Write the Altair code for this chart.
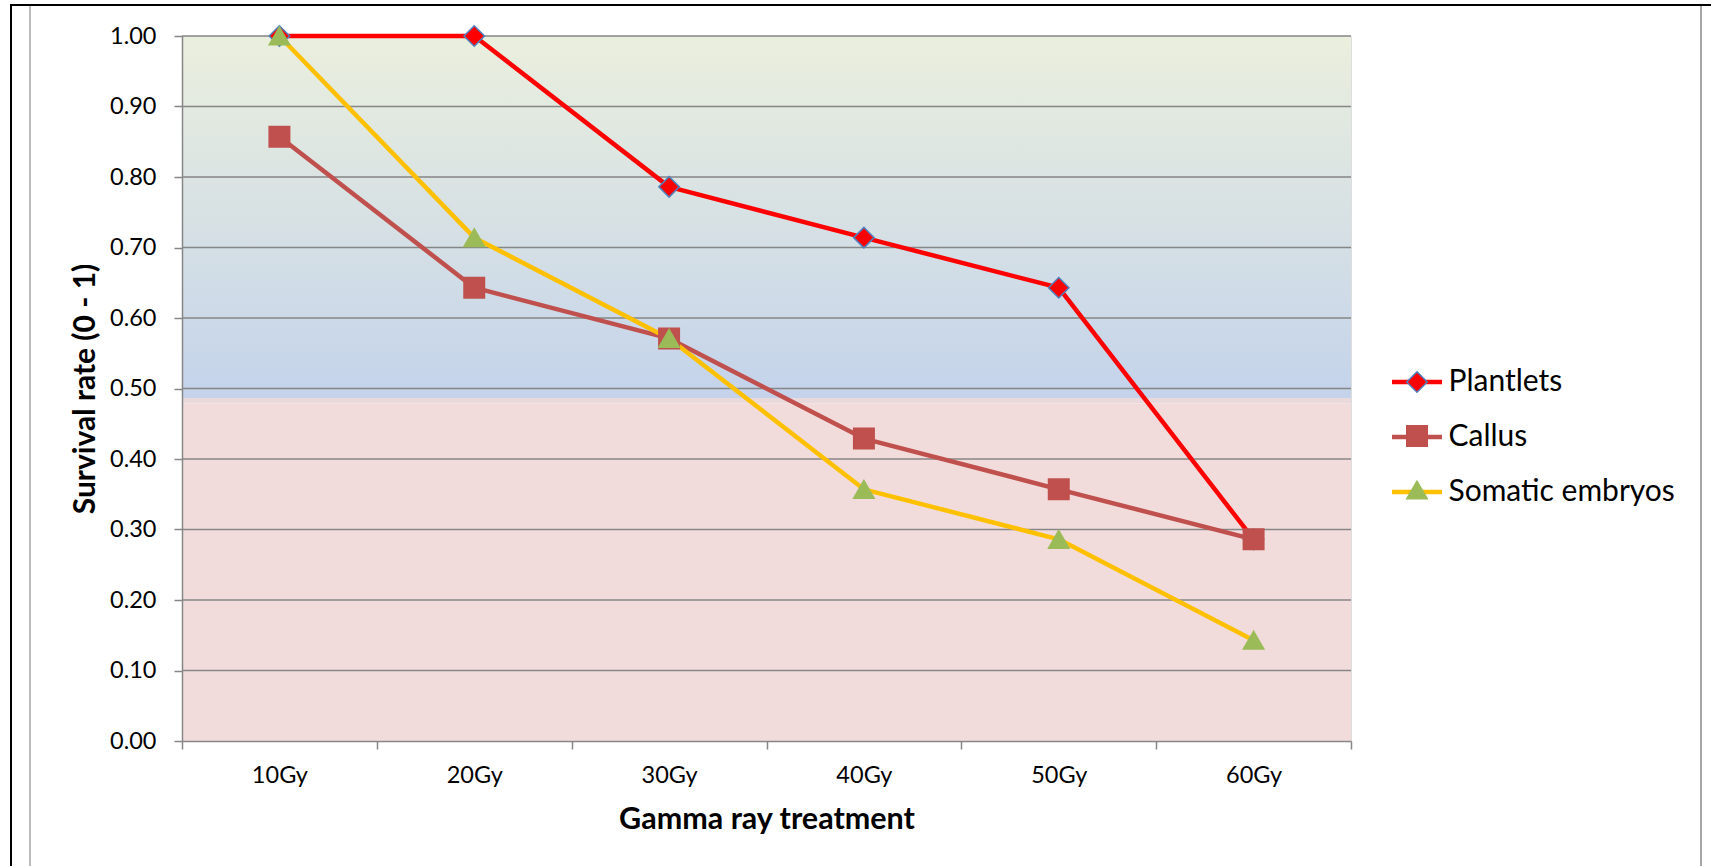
import altair as alt
import pandas as pd

# Gamma-ray dose levels on the x axis
doses = ["10Gy", "20Gy", "30Gy", "40Gy", "50Gy", "60Gy"]

# Survival rate (0 - 1) of each explant type
series_names = ["Plantlets", "Callus", "Somatic embryos"]
plantlets = [1.000, 1.000, 0.786, 0.714, 0.643, 0.286]
callus = [0.857, 0.643, 0.571, 0.429, 0.357, 0.286]
somatic_embryos = [1.000, 0.714, 0.571, 0.357, 0.286, 0.143]

# Series styling
line_colors = ["#FF0000", "#C0504D", "#FFC000"]
marker_fills = ["#FF0000", "#C0504D", "#9BBB59"]
marker_edges = ["#4F81BD", "#C0504D", "#9BBB59"]
marker_shapes = ["diamond", "square", "triangle-up"]

# Axis ticks and horizontal gridlines
y_ticks = [0.0, 0.1, 0.2, 0.3, 0.4, 0.5, 0.6, 0.7, 0.8, 0.9, 1.0]
grid_values = [0.1, 0.2, 0.3, 0.4, 0.5, 0.6, 0.7, 0.8, 0.9, 1.0]

# Shaded bands behind the plot (upper gradient zone, thin edge, lower zone)
upper_zone = [1.0, 0.4865]
edge_zone = [0.4865, 0.479]
lower_zone = [0.479, 0.0]

W, H = 1169, 705
PAD = {"left": 182, "top": 36, "right": 360, "bottom": 125}
GRID = "#868686"
FONT = "Lato"

rows = []
for name, vals in zip(series_names, [plantlets, callus, somatic_embryos]):
    for d, v in zip(doses, vals):
        rows.append({"dose": d, "rate": v, "series": name})
df = pd.DataFrame(rows)

y_scale = alt.Scale(domain=[0, 1], nice=False, zero=True)
y_axis = alt.Axis(
    title="Survival rate (0 - 1)", values=y_ticks, format=".2f", grid=False,
    labelFont=FONT, labelFontSize=23.5, labelColor="black", labelPadding=18,
    tickSize=8, tickColor=GRID, tickWidth=1.5, domainColor=GRID, domainWidth=1.5,
    titleFont=FONT, titleFontSize=30, titleFontWeight="bold", titleColor="black",
    titleX=-97, titleY=H / 2, titleBaseline="middle", titleAlign="center", zindex=1,
)
x_axis = alt.Axis(
    title="Gamma ray treatment", labelAngle=0, grid=False, tickBand="extent",
    labelFont=FONT, labelFontSize=23.5, labelColor="black", labelPadding=26,
    labelBaseline="middle",
    tickSize=8, tickColor=GRID, tickWidth=1.5, domainColor=GRID, domainWidth=1.5,
    titleFont=FONT, titleFontSize=30.5, titleFontWeight="bold", titleColor="black",
    titleY=78, titleBaseline="middle", zindex=1,
)
x_enc = alt.X("dose:N", sort=doses, axis=x_axis,
              scale=alt.Scale(type="band", domain=doses, paddingInner=0, paddingOuter=0))
y_enc = alt.Y("rate:Q", scale=y_scale, axis=y_axis)

# Background zones
grad = alt.LinearGradient(
    gradient="linear", x1=0, x2=0, y1=0, y2=1,
    stops=[alt.GradientStop(color="#EAEFDD", offset=0),
           alt.GradientStop(color="#C4D3EB", offset=1)],
)
bg_upper = alt.Chart(pd.DataFrame({"top": [upper_zone[0]], "bottom": [upper_zone[1]]})).mark_rect(
    fill=grad).encode(x=alt.value(0), x2=alt.value(W),
                      y=alt.Y("top:Q", scale=y_scale, axis=y_axis), y2="bottom:Q")
bg_edge = alt.Chart(pd.DataFrame({"top": [edge_zone[0]], "bottom": [edge_zone[1]]})).mark_rect(
    fill="#E9D9DD").encode(x=alt.value(0), x2=alt.value(W),
                           y=alt.Y("top:Q", scale=y_scale, axis=y_axis), y2="bottom:Q")
bg_lower = alt.Chart(pd.DataFrame({"top": [lower_zone[0]], "bottom": [lower_zone[1]]})).mark_rect(
    fill="#F2DCDB").encode(x=alt.value(0), x2=alt.value(W),
                           y=alt.Y("top:Q", scale=y_scale, axis=y_axis), y2="bottom:Q")

gridlines = alt.Chart(pd.DataFrame({"g": grid_values})).mark_rule(
    stroke=GRID, strokeWidth=1.5).encode(
    x=alt.value(0), x2=alt.value(W), y=alt.Y("g:Q", scale=y_scale, axis=y_axis))

# Legend: line swatches with labels, marker symbols laid over their centres
line_legend = alt.Legend(
    orient="none", legendX=1207.5, legendY=318.5, title=None, padding=0,
    symbolType="stroke", symbolSize=2500, symbolStrokeWidth=4.5,
    labelFont=FONT, labelFontSize=30, labelColor="black", labelOffset=4,
    labelLimit=400, rowPadding=12,
)
marker_legend = alt.Legend(
    orient="none", legendX=1220, legendY=331, title=None, padding=0,
    symbolSize=420, symbolStrokeWidth=1.5, symbolOpacity=1,
    labelFont=FONT, labelFontSize=30, labelExpr="''", labelOffset=4,
    rowPadding=24,
)

lines = alt.Chart(df).mark_line(strokeWidth=4.5, strokeJoin="round", strokeCap="round").encode(
    x=x_enc, y=y_enc,
    stroke=alt.Stroke("series:N", scale=alt.Scale(domain=series_names, range=line_colors),
                      legend=line_legend),
)

markers = alt.Chart(df).mark_point(filled=True, size=420, strokeWidth=1.5, opacity=1).encode(
    x=x_enc, y=y_enc,
    fill=alt.Fill("series:N", scale=alt.Scale(domain=series_names, range=marker_fills),
                  legend=marker_legend),
    shape=alt.Shape("series:N", scale=alt.Scale(domain=series_names, range=marker_shapes),
                    legend=marker_legend),
    stroke=alt.Stroke("series:N", scale=alt.Scale(domain=series_names, range=marker_edges),
                      legend=marker_legend),
)

# Page frame lines around the figure
one = pd.DataFrame({"k": [0]})
frame_top = alt.Chart(one).mark_rule(stroke="black", strokeWidth=2).encode(
    x=alt.value(-172), x2=alt.value(1529), y=alt.value(-31))
frame_left = alt.Chart(one).mark_rule(stroke="black", strokeWidth=2).encode(
    x=alt.value(-171), y=alt.value(-32), y2=alt.value(830))
frame_inner = alt.Chart(one).mark_rule(stroke="#A6A6A6", strokeWidth=1.5).encode(
    x=alt.value(-152), y=alt.value(-30), y2=alt.value(830))
frame_right = alt.Chart(one).mark_rule(stroke="#A6A6A6", strokeWidth=2).encode(
    x=alt.value(1519), y=alt.value(-30), y2=alt.value(830))

chart = alt.layer(
    bg_upper, bg_edge, bg_lower, gridlines, lines, markers,
    frame_top, frame_left, frame_inner, frame_right,
).resolve_scale(
    stroke="independent", fill="independent", shape="independent"
).properties(
    width=W, height=H, padding=PAD,
    autosize=alt.AutoSizeParams(type="none"), background="white",
).configure_view(stroke=None).configure(font=FONT)

chart.save("out.html", embed_options={"renderer": "svg", "actions": False})
